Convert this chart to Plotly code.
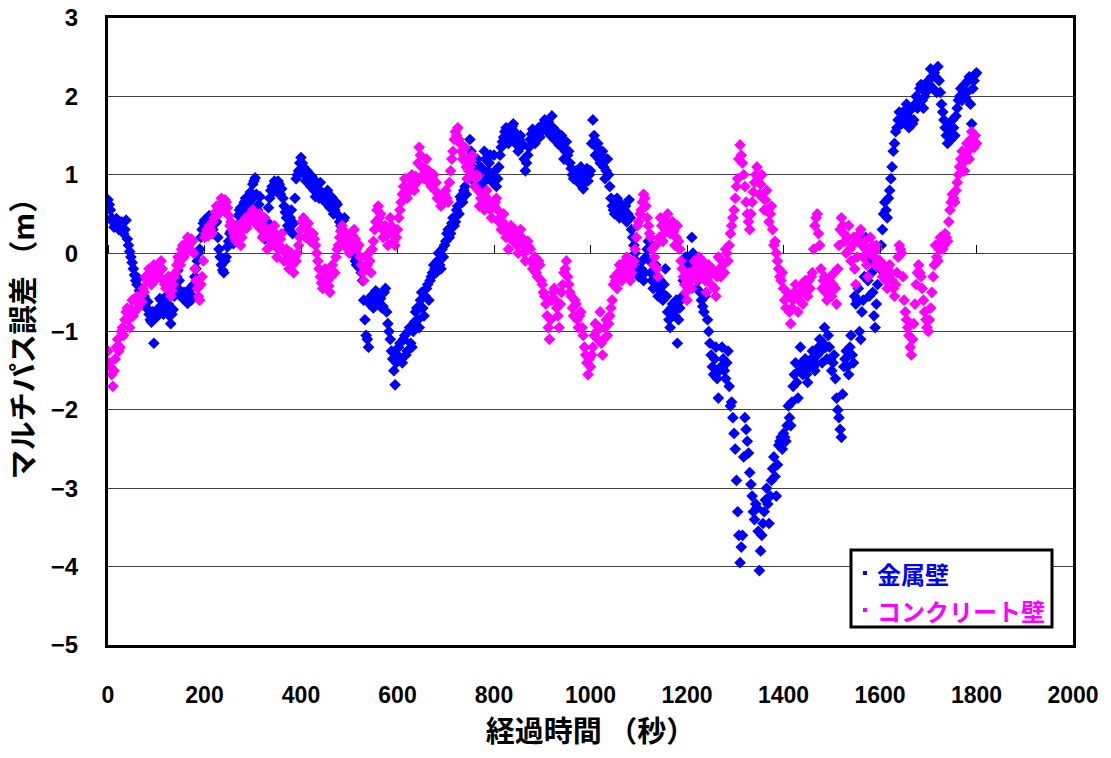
import numpy as np
import plotly.graph_objects as go

# Elapsed time (s): two interleaved sampling grids, 5 s apart each
time_a = np.arange(0, 1801, 5)
time_b = np.arange(2.5, 1800, 5)

# Multipath error (m) beside a metal wall
metal_wall_a = [
    0.68, 0.55, 0.40, 0.36, 0.42, 0.33, 0.38, 0.30, 0.18, 0.02, -0.12, -0.28, -0.40, -0.48, -0.60, -0.55, -0.70, -0.78, -0.88, -1.15,
    -0.82, -0.70, -0.60, -0.78, -0.55, -0.65, -0.90, -0.72, -0.40, -0.22, -0.48, -0.58, -0.52, -0.64, -0.45, -0.55, -0.30, -0.10, 0.05, 0.30,
    0.42, 0.38, 0.48, 0.35, 0.44, 0.40, 0.05, -0.15, -0.25, -0.05, 0.15, 0.28, 0.12, 0.22, 0.48, 0.58, 0.52, 0.70, 0.62, 0.78,
    0.88, 0.96, 0.55, 0.72, 0.30, 0.18, 0.40, 0.70, 0.85, 0.92, 0.78, 0.88, 0.82, 0.60, 0.45, 0.30, 0.55, 0.38, 0.95, 1.05,
    1.22, 1.10, 0.92, 1.00, 0.85, 0.95, 0.72, 0.82, 0.90, 0.75, 0.65, 0.80, 0.58, 0.70, 0.55, 0.62, 0.40, 0.30, 0.45, 0.20,
    0.10, 0.00, 0.12, -0.15, -0.05, -0.25, -0.60, -1.05, -1.20, -0.55, -0.70, -0.48, -0.62, -0.58, -0.68, -0.45, -0.90, -1.10, -1.35, -1.68,
    -1.30, -1.15, -1.40, -1.05, -1.25, -0.95, -1.20, -0.88, -0.70, -0.95, -0.50, -0.80, -0.45, -0.60, -0.30, -0.15, -0.25, 0.00, -0.20, -0.05,
    0.15, 0.30, 0.25, 0.45, 0.40, 0.60, 0.72, 0.65, 0.85, 0.95, 1.45, 1.10, 0.90, 1.20, 0.85, 1.05, 1.30, 0.95, 1.15, 1.00,
    1.25, 0.85, 1.10, 1.35, 1.48, 1.60, 1.40, 1.55, 1.65, 1.45, 1.30, 1.50, 1.38, 1.05, 1.25, 1.45, 1.58, 1.40, 1.52, 1.48,
    1.60, 1.70, 1.55, 1.62, 1.75, 1.45, 1.55, 1.38, 1.50, 1.20, 1.42, 1.30, 1.08, 0.95, 1.05, 0.90, 1.10, 0.82, 1.00, 0.92,
    1.05, 1.70, 1.25, 1.40, 1.15, 1.30, 0.95, 1.20, 0.85, 0.60, 0.50, 0.70, 0.45, 0.62, 0.55, 0.40, 0.68, 0.30, 0.10, -0.10,
    -0.30, -0.20, -0.35, -0.05, 0.15, -0.25, -0.45, -0.15, -0.55, -0.35, -0.60, -0.20, -0.75, -0.95, -0.65, -0.80, -1.15, -0.70, -0.55, -0.20,
    -0.10, -0.30, 0.20, -0.15, -0.45, -0.25, -0.60, -0.75, -0.50, -1.00, -1.30, -1.55, -1.20, -1.85, -1.45, -1.35, -1.60, -1.25, -1.95, -2.10,
    -2.50, -3.30, -3.95, -3.60, -2.10, -2.40, -2.80, -3.10, -3.40, -3.25, -4.05, -3.60, -3.30, -3.00, -3.45, -2.90, -2.60, -3.10, -2.45, -2.35,
    -2.30, -2.40, -1.95, -2.20, -1.70, -1.40, -1.85, -1.20, -1.55, -1.35, -1.65, -1.45, -1.25, -1.50, -1.30, -1.10, -1.40, -0.95, -1.35, -1.20,
    -1.50, -1.30, -1.85, -2.10, -2.35, -1.45, -1.25, -1.55, -1.05, -1.40, -0.65, -0.45, -1.10, -0.60, 0.20, -0.35, -0.10, -0.50, -0.95, -0.40,
    -0.20, 0.30, 0.65, 0.45, 0.80, 1.10, 1.40, 1.60, 1.80, 1.65, 1.75, 1.90, 1.60, 1.85, 1.70, 2.00, 1.95, 2.15, 1.85, 2.05,
    2.20, 2.35, 2.10, 2.25, 2.38, 2.05, 1.80, 1.60, 1.40, 1.55, 1.70, 1.50, 1.85, 2.00, 1.95, 2.15, 2.05, 2.25, 1.65, 2.20,
    2.30,
]
metal_wall_b = [
    0.62, 0.45, 0.33, 0.44, 0.30, 0.40, 0.25, 0.42, 0.10, -0.05, -0.20, -0.35, -0.32, -0.58, -0.50, -0.68, -0.62, -0.85, -0.75, -0.80,
    -0.75, -0.58, -0.72, -0.62, -0.70, -0.80, -0.78, -0.55, -0.30, -0.35, -0.55, -0.50, -0.62, -0.48, -0.60, -0.40, -0.20, 0.00, 0.20, 0.38,
    0.35, 0.45, 0.40, 0.30, 0.38, 0.20, -0.05, -0.22, -0.10, 0.08, 0.25, 0.18, 0.28, 0.35, 0.55, 0.50, 0.65, 0.58, 0.72, 0.68,
    0.92, 0.75, 0.62, 0.45, 0.22, 0.30, 0.58, 0.80, 0.78, 0.85, 0.92, 0.75, 0.70, 0.52, 0.35, 0.45, 0.25, 0.70, 1.00, 1.15,
    1.15, 1.00, 1.05, 0.88, 0.98, 0.80, 0.88, 0.70, 0.78, 0.68, 0.75, 0.62, 0.72, 0.50, 0.65, 0.48, 0.35, 0.42, 0.25, 0.15,
    0.05, 0.08, -0.10, -0.02, -0.20, -0.35, -0.85, -1.10, -0.65, -0.60, -0.52, -0.65, -0.55, -0.70, -0.50, -0.75, -1.00, -1.25, -1.50, -1.40,
    -1.20, -1.35, -1.10, -1.30, -1.00, -1.15, -1.00, -0.75, -0.85, -0.60, -0.70, -0.55, -0.40, -0.35, -0.25, -0.20, -0.10, -0.15, 0.05, 0.10,
    0.25, 0.20, 0.38, 0.35, 0.55, 0.50, 0.68, 0.80, 0.75, 1.20, 1.30, 0.95, 1.05, 1.00, 1.10, 0.90, 1.20, 1.05, 1.25, 0.90,
    1.05, 0.95, 1.25, 1.42, 1.55, 1.50, 1.48, 1.62, 1.55, 1.38, 1.45, 1.40, 1.20, 1.15, 1.35, 1.52, 1.50, 1.45, 1.60, 1.55,
    1.65, 1.58, 1.68, 1.50, 1.60, 1.52, 1.45, 1.48, 1.35, 1.30, 1.25, 1.15, 1.00, 1.02, 0.98, 1.05, 0.95, 0.90, 1.08, 1.00,
    1.40, 1.50, 1.35, 1.20, 1.25, 1.10, 1.05, 1.00, 0.70, 0.55, 0.65, 0.58, 0.52, 0.48, 0.60, 0.50, 0.45, 0.20, 0.00, -0.20,
    -0.25, -0.10, -0.25, 0.05, -0.10, -0.35, -0.30, -0.40, -0.45, -0.50, -0.40, -0.55, -0.85, -0.70, -0.75, -0.60, -0.85, -0.60, -0.35, -0.05,
    -0.20, -0.05, 0.00, -0.30, -0.35, -0.50, -0.68, -0.55, -0.85, -1.15, -1.45, -1.35, -1.60, -1.50, -1.20, -1.50, -1.40, -1.70, -1.90, -2.30,
    -2.90, -3.60, -3.75, -2.60, -2.25, -2.55, -2.95, -3.30, -3.20, -3.55, -3.80, -3.45, -3.15, -3.20, -3.10, -2.75, -2.85, -2.70, -2.40, -2.50,
    -2.35, -2.20, -2.10, -1.90, -1.55, -1.65, -1.50, -1.40, -1.45, -1.55, -1.40, -1.35, -1.45, -1.40, -1.20, -1.25, -1.15, -1.20, -1.05, -1.35,
    -1.40, -1.60, -2.00, -2.25, -1.80, -1.35, -1.45, -1.20, -1.30, -0.55, -0.60, -1.00, -0.75, -0.30, -0.05, -0.55, -0.25, -0.80, -0.65, -0.10,
    0.10, 0.50, 0.55, 0.70, 0.95, 1.30, 1.55, 1.70, 1.72, 1.80, 1.68, 1.75, 1.82, 1.65, 1.90, 1.85, 2.10, 1.95, 2.00, 2.10,
    2.15, 2.25, 2.30, 2.05, 2.20, 1.90, 1.70, 1.50, 1.62, 1.45, 1.60, 1.75, 1.95, 2.10, 2.00, 1.98, 2.20, 1.90, 2.10, 2.28,
]

# Multipath error (m) beside a concrete wall
concrete_wall_a = [
    -1.25, -1.45, -1.70, -1.35, -1.10, -1.20, -0.95, -0.85, -0.70, -0.95, -0.60, -0.75, -0.55, -0.65, -0.62, -0.50, -0.35, -0.20, -0.40, -0.15,
    -0.30, -0.25, -0.10, -0.35, -0.45, -0.30, -0.55, -0.40, -0.25, -0.05, -0.15, 0.10, 0.00, 0.20, 0.05, 0.15, -0.20, -0.45, -0.60, -0.30,
    0.20, 0.30, 0.35, 0.25, 0.45, 0.60, 0.50, 0.70, 0.55, 0.65, 0.48, 0.40, 0.25, 0.15, 0.35, 0.10, 0.30, 0.45, 0.38, 0.50,
    0.55, 0.40, 0.35, 0.50, 0.20, 0.45, 0.05, 0.30, 0.15, 0.35, -0.05, 0.10, 0.25, -0.10, 0.05, -0.20, 0.00, -0.25, -0.10, 0.10,
    0.30, 0.45, 0.20, 0.38, 0.15, 0.25, 0.10, -0.10, -0.30, -0.45, -0.20, -0.35, -0.50, -0.15, -0.25, 0.05, 0.20, 0.35, 0.10, 0.25,
    0.00, 0.15, 0.30, 0.05, 0.10, -0.15, -0.35, -0.05, 0.00, -0.25, 0.15, 0.40, 0.60, 0.50, 0.20, 0.35, 0.10, 0.45, 0.25, 0.10,
    0.30, 0.55, 0.75, 0.95, 0.70, 0.85, 1.00, 0.80, 0.90, 1.35, 1.10, 0.95, 1.20, 1.05, 0.85, 1.00, 0.90, 0.75, 0.60, 0.70,
    0.80, 0.65, 1.05, 1.30, 1.55, 1.60, 1.40, 1.20, 1.35, 0.95, 1.10, 1.25, 0.85, 1.00, 0.60, 0.75, 0.55, 0.80, 0.65, 0.45,
    0.60, 0.70, 0.40, 0.30, 0.50, 0.20, 0.05, 0.35, 0.15, 0.25, 0.00, 0.30, 0.10, -0.10, 0.15, 0.05, -0.20, -0.05, -0.30, -0.15,
    -0.40, -0.55, -0.80, -1.10, -0.60, -0.45, -0.70, -0.95, -0.50, -0.25, -0.10, -0.40, -0.55, -0.80, -0.65, -0.95, -0.75, -1.05, -1.30, -1.55,
    -1.45, -1.20, -0.90, -1.10, -0.75, -1.30, -0.95, -1.05, -0.80, -0.60, -0.30, -0.45, -0.15, -0.35, -0.20, -0.05, -0.30, -0.25, -0.10, 0.20,
    0.40, 0.55, 0.75, 0.60, 0.35, 0.20, -0.15, 0.10, -0.30, 0.45, 0.15, 0.30, 0.50, 0.25, 0.40, 0.10, 0.35, 0.05, -0.20, -0.40,
    -0.60, -0.25, -0.45, -0.10, -0.35, -0.05, -0.30, -0.20, -0.50, -0.15, -0.40, -0.25, -0.55, -0.05, -0.30, -0.15, 0.05, -0.10, 0.25, 0.45,
    0.70, 0.95, 1.38, 1.15, 0.85, 0.50, 0.30, 0.65, 0.90, 1.10, 0.75, 1.00, 0.55, 0.80, 0.40, 0.60, 0.10, 0.00, -0.20, -0.35,
    -0.45, -0.70, -0.55, -0.90, -0.60, -0.40, -0.75, -0.50, -0.65, -0.35, -0.55, -0.45, -0.25, 0.35, 0.50, 0.10, -0.45, -0.30, -0.60, -0.40,
    -0.55, -0.25, -0.65, 0.10, 0.45, 0.25, 0.00, 0.35, -0.10, 0.20, -0.40, 0.15, 0.30, -0.05, 0.05, -0.30, 0.20, 0.10, -0.15, 0.05,
    -0.10, -0.30, -0.20, -0.45, -0.15, -0.35, -0.55, -0.25, 0.10, 0.00, -0.60, -0.85, -1.05, -1.30, -0.90, -0.40, -0.15, -0.30, -0.60, -0.85,
    -1.00, -0.70, -0.30, 0.10, -0.10, 0.20, 0.05, 0.25, 0.15, 0.55, 0.75, 0.65, 0.90, 1.10, 1.30, 1.05, 1.40, 1.20, 1.55, 1.35,
    1.40,
]
concrete_wall_b = [
    -1.40, -1.55, -1.50, -1.20, -1.25, -1.00, -1.05, -0.75, -0.85, -0.72, -0.80, -0.60, -0.70, -0.55, -0.45, -0.30, -0.28, -0.32, -0.25, -0.35,
    -0.20, -0.30, -0.20, -0.40, -0.35, -0.45, -0.48, -0.30, -0.15, -0.10, 0.05, -0.05, 0.12, 0.10, 0.18, 0.00, -0.35, -0.55, -0.40, -0.10,
    0.25, 0.22, 0.30, 0.40, 0.52, 0.55, 0.62, 0.60, 0.68, 0.58, 0.35, 0.30, 0.20, 0.28, 0.22, 0.20, 0.40, 0.32, 0.48, 0.42,
    0.48, 0.45, 0.42, 0.30, 0.35, 0.25, 0.20, 0.10, 0.28, 0.20, 0.05, 0.18, 0.05, 0.00, -0.10, -0.05, -0.15, -0.05, 0.00, 0.20,
    0.40, 0.35, 0.30, 0.28, 0.22, 0.18, 0.00, -0.20, -0.38, -0.30, -0.28, -0.42, -0.30, -0.25, -0.05, 0.10, 0.28, 0.15, 0.20, 0.05,
    0.10, 0.22, 0.18, 0.12, -0.05, -0.25, -0.20, -0.15, -0.10, 0.05, 0.30, 0.55, 0.45, 0.35, 0.28, 0.22, 0.30, 0.35, 0.15, 0.20,
    0.45, 0.65, 0.85, 0.80, 0.78, 0.95, 0.88, 0.98, 1.15, 1.25, 1.00, 1.08, 0.92, 0.95, 0.95, 0.80, 0.70, 0.68, 0.65, 0.75,
    0.70, 0.90, 1.20, 1.45, 1.50, 1.45, 1.30, 1.25, 1.10, 1.05, 1.18, 1.00, 0.95, 0.80, 0.70, 0.65, 0.72, 0.60, 0.55, 0.65,
    0.65, 0.55, 0.45, 0.40, 0.35, 0.25, 0.20, 0.22, 0.30, 0.10, 0.15, 0.20, 0.00, 0.05, 0.08, -0.10, -0.15, -0.25, -0.10, -0.35,
    -0.50, -0.65, -0.95, -0.85, -0.50, -0.60, -0.80, -0.65, -0.40, -0.20, -0.30, -0.50, -0.70, -0.60, -0.85, -0.80, -0.95, -1.20, -1.40, -1.35,
    -1.30, -1.05, -1.00, -0.95, -1.15, -1.10, -0.85, -0.90, -0.70, -0.40, -0.35, -0.25, -0.30, -0.25, -0.10, -0.20, -0.35, -0.15, 0.05, 0.35,
    0.50, 0.65, 0.70, 0.45, 0.25, 0.05, -0.05, -0.20, 0.20, 0.35, 0.25, 0.40, 0.35, 0.30, 0.28, 0.20, 0.15, -0.10, -0.30, -0.50,
    -0.45, -0.35, -0.30, -0.20, -0.15, -0.25, -0.10, -0.35, -0.30, -0.28, -0.20, -0.45, -0.30, -0.20, -0.10, -0.25, 0.00, 0.10, 0.35, 0.55,
    0.85, 1.20, 1.25, 1.00, 0.65, 0.40, 0.50, 0.78, 1.00, 0.95, 0.88, 0.70, 0.68, 0.55, 0.50, 0.30, 0.15, -0.10, -0.30, -0.25,
    -0.60, -0.50, -0.75, -0.70, -0.50, -0.55, -0.60, -0.40, -0.45, -0.50, -0.35, -0.30, 0.05, 0.45, 0.25, -0.20, -0.35, -0.50, -0.45, -0.30,
    -0.40, -0.45, -0.20, 0.30, 0.35, 0.15, 0.20, 0.05, 0.10, -0.20, -0.05, 0.25, 0.10, 0.15, -0.15, 0.00, 0.05, -0.05, 0.10, -0.10,
    -0.20, -0.15, -0.35, -0.30, -0.25, -0.45, -0.40, -0.05, 0.05, -0.30, -0.75, -0.95, -1.20, -1.10, -0.65, -0.25, -0.25, -0.45, -0.75, -0.95,
    -0.85, -0.50, -0.15, -0.05, 0.05, 0.15, 0.10, 0.20, 0.40, 0.65, 0.70, 0.80, 1.00, 1.20, 1.15, 1.25, 1.30, 1.45, 1.40, 1.50,
]

series_names = ["金属壁", "コンクリート壁"]
series_colors = ["#0000FF", "#FF00FF"]

x_ticks = list(range(0, 2001, 200))
y_ticks = list(range(-5, 4))

# Plot area in pixels (figure is 1111 x 758)
W, H = 1111, 758
L, R, T, B = 108, 1073, 18, 645
pw, ph = R - L, B - T


def px(xp):
    return (xp - L) / pw


def py(yp):
    return (B - yp) / ph


fig = go.Figure()

series = [(metal_wall_a, metal_wall_b), (concrete_wall_a, concrete_wall_b)]
for (ya, yb), name, color in zip(series, series_names, series_colors):
    fig.add_trace(go.Scatter(
        x=np.concatenate([time_a, time_b]), y=list(ya) + list(yb),
        mode="markers", name=name,
        marker=dict(symbol="diamond", size=9, color=color, line=dict(width=0)),
        showlegend=False,
    ))

# Invisible trace so the tick-only axis along y = 0 is rendered
fig.add_trace(go.Scatter(x=[None], y=[None], xaxis="x2", yaxis="y",
                         showlegend=False, hoverinfo="skip"))

xtick_font = dict(family="Liberation Sans, Arial, sans-serif", size=23, color="black", weight="bold")
ytick_font = dict(family="Liberation Sans, Arial, sans-serif", size=24, color="black", weight="bold")
title_font = dict(family="Noto Sans CJK JP, sans-serif", size=29, color="black", weight="bold")

fig.update_layout(
    width=W, height=H,
    margin=dict(l=L, r=W - R, t=T, b=H - B, autoexpand=False),
    paper_bgcolor="white", plot_bgcolor="white",
    showlegend=False,
    xaxis=dict(
        range=[0, 2000], tickvals=x_ticks, ticktext=[str(v) for v in x_ticks],
        showgrid=False, zeroline=False,
        showline=True, linecolor="black", linewidth=3, mirror=True,
        ticks="", ticklabelstandoff=27, tickfont=xtick_font,
        title=dict(text="経過時間 （秒）", font=title_font, standoff=14),
        automargin=False,
    ),
    xaxis2=dict(
        range=[0, 2000], tickvals=x_ticks, overlaying="x", anchor="free",
        position=(0 - y_ticks[0]) / (y_ticks[-1] - y_ticks[0]), side="top",
        showgrid=False, zeroline=False, showline=False, showticklabels=False,
        ticks="outside", ticklen=8, tickwidth=1, tickcolor="black",
    ),
    yaxis=dict(
        range=[-5, 3], tickvals=y_ticks, ticktext=[str(v).replace("-", "\u2212") for v in y_ticks],
        showgrid=True, gridcolor="#404040", gridwidth=1, zeroline=False,
        showline=True, linecolor="black", linewidth=3, mirror=True,
        ticks="", ticklabelstandoff=22, tickfont=ytick_font,
        title=dict(text="マルチパス誤差 （m）", font=title_font, standoff=12),
        automargin=False,
    ),
)

# Legend box drawn in paper coordinates
fig.add_shape(type="rect", xref="paper", yref="paper",
              x0=px(851), x1=px(1052), y0=py(627), y1=py(550),
              line=dict(color="black", width=3), fillcolor="white", layer="above")

legend_rows = [573, 610]
for name, color, yr in zip(series_names, series_colors, legend_rows):
    fig.add_shape(type="rect", xref="paper", yref="paper",
                  x0=px(863), x1=px(867), y0=py(yr + 2), y1=py(yr - 2),
                  line=dict(width=0), fillcolor=color, layer="above")
    fig.add_annotation(xref="paper", yref="paper", x=px(875), y=py(yr),
                       xanchor="left", yanchor="middle", showarrow=False,
                       text=name,
                       font=dict(family="Noto Sans CJK JP, sans-serif", size=24,
                                 color=color, weight="bold"))

fig.write_html("out.html")
